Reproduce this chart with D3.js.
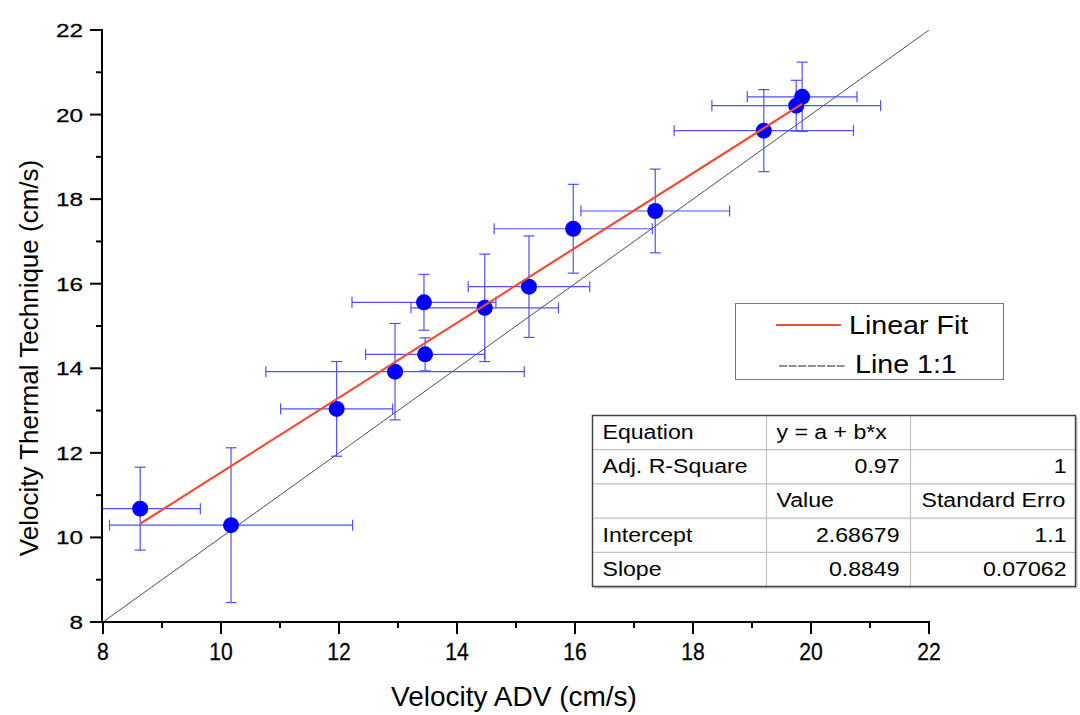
<!DOCTYPE html>
<html>
<head>
<meta charset="utf-8">
<script src="https://cdn.jsdelivr.net/npm/d3@7/dist/d3.min.js"></script>
<style>
  html, body { margin: 0; padding: 0; background: #fff; }
  svg { display: block; font-family: "Liberation Sans", Arial, sans-serif; }
</style>
</head>
<body>
<svg id="chart" width="1080" height="715"></svg>
<script>
// ---- data ----
const adv       = [8.63, 10.17, 11.96, 12.95, 13.46, 13.44, 14.47, 15.22, 15.97, 17.36, 19.20, 19.75, 19.85];
const thermal   = [10.68, 10.29, 13.04, 13.92, 14.33, 15.56, 15.43, 15.93, 17.30, 17.72, 19.62, 20.21, 20.42];
const advErr    = [1.02, 2.06, 0.95, 2.19, 1.01, 1.22, 1.25, 1.03, 1.34, 1.26, 1.52, 1.43, 0.93];
const thermalErr= [0.98, 1.83, 1.12, 1.14, 0.39, 0.66, 1.27, 1.20, 1.05, 0.99, 0.97, 0.60, 0.82];
const fitIntercept = 2.68679;
const fitSlope = 0.8849;
const xTicks = [8, 10, 12, 14, 16, 18, 20, 22];
const yTicks = [8, 10, 12, 14, 16, 18, 20, 22];
const legendLabels = ["Linear Fit", "Line 1:1"];
const tableRows = [
  ["Equation", "y = a + b*x", ""],
  ["Adj. R-Square", "0.97", "1"],
  ["", "Value", "Standard Erro"],
  ["Intercept", "2.68679", "1.1"],
  ["Slope", "0.8849", "0.07062"]
];
const xTitle = "Velocity ADV (cm/s)";
const yTitle = "Velocity Thermal Technique (cm/s)";

// ---- layout ----
const svg = d3.select("#chart");
const x = d3.scaleLinear().domain([8, 22]).range([103, 929]);
const y = d3.scaleLinear().domain([8, 22]).range([622, 30]);

svg.append("defs").append("clipPath").attr("id", "plotclip")
  .append("rect").attr("x", 103).attr("y", 30).attr("width", 826).attr("height", 592);

const plot = svg.append("g").attr("clip-path", "url(#plotclip)");

// 1:1 line
plot.append("line")
  .attr("x1", x(8)).attr("y1", y(8)).attr("x2", x(22)).attr("y2", y(22))
  .attr("stroke", "#222").attr("stroke-width", 0.8);

// error bars
const errColor = "#5050ff";
const cap = 5.5;
const eb = plot.append("g").attr("stroke", errColor).attr("stroke-width", 1.2).attr("fill", "none");
adv.forEach((xv, i) => {
  const cx = x(xv), cy = y(thermal[i]);
  const xl = x(xv - advErr[i]), xr = x(xv + advErr[i]);
  const yt = y(thermal[i] + thermalErr[i]), yb = y(thermal[i] - thermalErr[i]);
  eb.append("line").attr("x1", xl).attr("x2", xr).attr("y1", cy).attr("y2", cy);
  eb.append("line").attr("x1", xl).attr("x2", xl).attr("y1", cy - cap).attr("y2", cy + cap);
  eb.append("line").attr("x1", xr).attr("x2", xr).attr("y1", cy - cap).attr("y2", cy + cap);
  eb.append("line").attr("x1", cx).attr("x2", cx).attr("y1", yt).attr("y2", yb);
  eb.append("line").attr("x1", cx - cap).attr("x2", cx + cap).attr("y1", yt).attr("y2", yt);
  eb.append("line").attr("x1", cx - cap).attr("x2", cx + cap).attr("y1", yb).attr("y2", yb);
});

// points
plot.append("g").selectAll("circle").data(adv).join("circle")
  .attr("cx", d => x(d)).attr("cy", (d, i) => y(thermal[i]))
  .attr("r", 8).attr("fill", "#0000ff");

// fit line
const xMin = d3.min(adv), xMax = d3.max(adv);
plot.append("line")
  .attr("x1", x(xMin)).attr("y1", y(fitIntercept + fitSlope * xMin))
  .attr("x2", x(xMax)).attr("y2", y(fitIntercept + fitSlope * xMax))
  .attr("stroke", "#ee4e33").attr("stroke-width", 2.2);

// axes
const axisColor = "#000";
const xAxis = svg.append("g");
xAxis.append("line").attr("x1", 102).attr("x2", 930).attr("y1", 622).attr("y2", 622)
  .attr("stroke", axisColor).attr("stroke-width", 2);
d3.range(8, 22.01, 1).forEach(v => {
  const major = xTicks.includes(v);
  xAxis.append("line").attr("x1", x(v)).attr("x2", x(v)).attr("y1", 622).attr("y2", 622 + (major ? 12 : 6))
    .attr("stroke", axisColor).attr("stroke-width", 2);
});
xAxis.selectAll("text.tk").data(xTicks).join("text").attr("class", "tk")
  .attr("transform", d => `translate(${x(d)},660) scale(0.92,1)`)
  .attr("text-anchor", "middle").attr("font-size", 23).attr("fill", "#000")
  .attr("stroke", "#000").attr("stroke-width", 0.25)
  .text(d => d);

const yAxis = svg.append("g");
yAxis.append("line").attr("x1", 102).attr("x2", 102).attr("y1", 29).attr("y2", 623)
  .attr("stroke", axisColor).attr("stroke-width", 2);
d3.range(8, 22.01, 1).forEach(v => {
  const major = yTicks.includes(v);
  yAxis.append("line").attr("x1", 102 - (major ? 12 : 6)).attr("x2", 102).attr("y1", y(v)).attr("y2", y(v))
    .attr("stroke", axisColor).attr("stroke-width", 2);
});
yAxis.selectAll("text.tk").data(yTicks).join("text").attr("class", "tk")
  .attr("transform", d => `translate(83,${y(d) + 7}) scale(1.28,1)`)
  .attr("text-anchor", "end").attr("font-size", 19).attr("fill", "#000")
  .attr("stroke", "#000").attr("stroke-width", 0.25)
  .text(d => d);

// titles
svg.append("text").attr("x", 514).attr("y", 706).attr("text-anchor", "middle")
  .attr("font-size", 28).attr("fill", "#000").text(xTitle);
svg.append("text").attr("transform", "translate(38,358) rotate(-90)").attr("text-anchor", "middle")
  .attr("font-size", 26).attr("fill", "#000").text(yTitle);

// legend
const lg = svg.append("g");
lg.append("rect").attr("x", 735.5).attr("y", 303.5).attr("width", 268).attr("height", 76)
  .attr("fill", "#fff").attr("stroke", "#777").attr("stroke-width", 1);
lg.append("line").attr("x1", 776).attr("x2", 841).attr("y1", 325).attr("y2", 325)
  .attr("stroke", "#ee4e33").attr("stroke-width", 2.2);
lg.append("line").attr("x1", 779).attr("x2", 846).attr("y1", 366).attr("y2", 366)
  .attr("stroke", "#222").attr("stroke-width", 1).attr("stroke-dasharray", "8,1.6");
lg.append("text").attr("transform", "translate(849,334) scale(1.1,1)")
  .attr("font-size", 26).attr("fill", "#000").text(legendLabels[0]);
lg.append("text").attr("transform", "translate(855,373) scale(1.1,1)")
  .attr("font-size", 26).attr("fill", "#000").text(legendLabels[1]);

// table
const tx0 = 592.5, tx1 = 766.5, tx2 = 910.5, tx3 = 1075.5;
const ty0 = 415.5, rowH = 34.2;
const tb = svg.append("g");
tb.append("rect").attr("x", tx0 + 2).attr("y", ty0 + 2).attr("width", tx3 - tx0).attr("height", rowH * 5)
  .attr("fill", "#c8c8d0");
tb.append("rect").attr("x", tx0).attr("y", ty0).attr("width", tx3 - tx0).attr("height", rowH * 5)
  .attr("fill", "#fff");
for (let r = 1; r < 5; r++) {
  tb.append("line").attr("x1", tx0).attr("x2", tx3).attr("y1", ty0 + r * rowH).attr("y2", ty0 + r * rowH)
    .attr("stroke", "#c0c0c0").attr("stroke-width", 1.2);
}
[tx1, tx2].forEach(cx => tb.append("line").attr("x1", cx).attr("x2", cx).attr("y1", ty0).attr("y2", ty0 + rowH * 5)
  .attr("stroke", "#c0c0c0").attr("stroke-width", 1.2));
tb.append("rect").attr("x", tx0).attr("y", ty0).attr("width", tx3 - tx0).attr("height", rowH * 5)
  .attr("fill", "none").attr("stroke", "#444").attr("stroke-width", 1.5);

const isNum = s => /^[0-9.]+$/.test(s);
tableRows.forEach((row, r) => {
  const by = ty0 + r * rowH + 23.5;
  row.forEach((cell, c) => {
    if (!cell) return;
    let xx, anchor = "start";
    if (c === 0) xx = tx0 + 10;
    else if (c === 1) { if (isNum(cell)) { xx = tx2 - 11; anchor = "end"; } else xx = tx1 + 10; }
    else { if (isNum(cell)) { xx = tx3 - 9; anchor = "end"; } else xx = tx2 + 11; }
    tb.append("text").attr("transform", `translate(${xx},${by}) scale(1.1,1)`).attr("text-anchor", anchor)
      .attr("font-size", 21).attr("fill", "#000").text(cell);
  });
});
</script>
</body>
</html>
